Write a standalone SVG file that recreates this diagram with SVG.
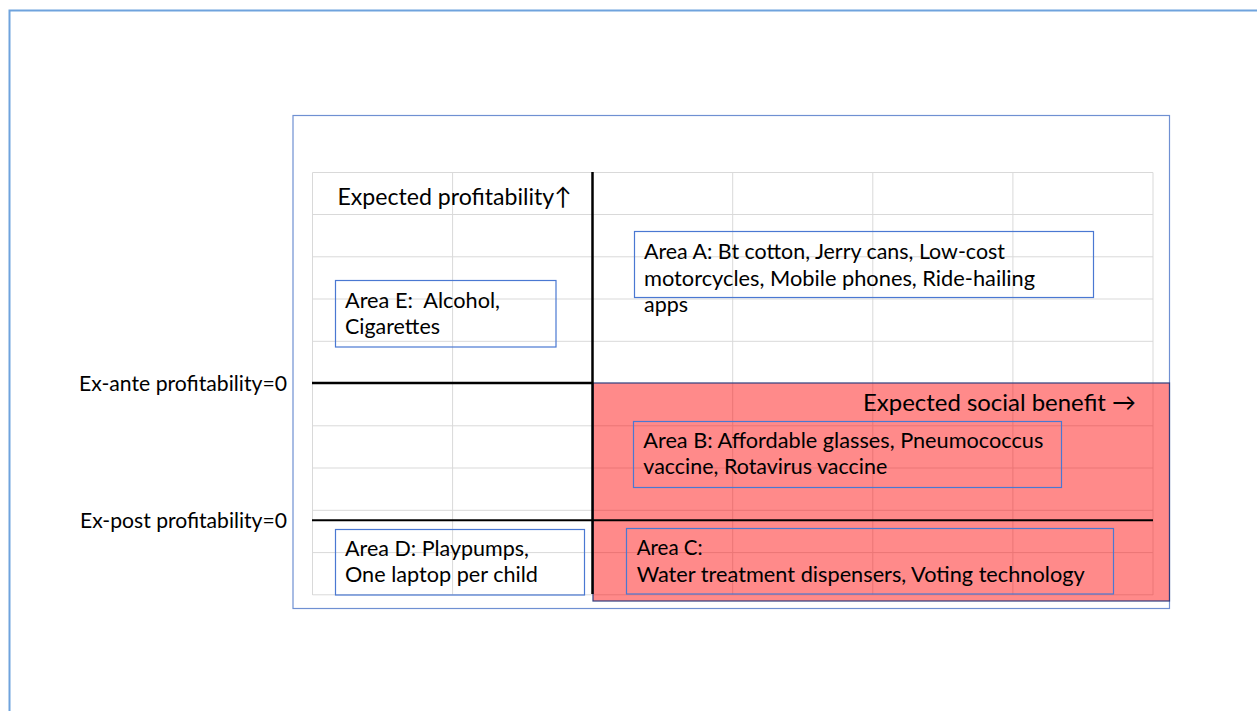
<svg xmlns="http://www.w3.org/2000/svg" width="1257" height="711" viewBox="0 0 1257 711">
<style>
.t{font-family:Lato,"Liberation Sans",sans-serif;font-size:22px;fill:#000}
.h{font-family:Lato,"Liberation Sans",sans-serif;font-size:24px;fill:#000}
.box{fill:none;stroke:#4A78D2;stroke-width:1.2}
.g{stroke:#D9D9D9;stroke-width:1;fill:none}
.ax{stroke:#000;fill:none}
</style>
<rect width="1257" height="711" fill="#FFFFFF"/>
<path d="M9.5 711 V10.5 H1257" fill="none" stroke="#6FA3DD" stroke-width="2"/>
<rect x="293" y="115.5" width="876.5" height="493" fill="none" stroke="#6F90D2" stroke-width="1.2"/>
<g id="grid" class="g">
<path d="M312.5 172.5 H1153 M312.5 214.5 H1153 M312.5 256.8 H1153 M312.5 299 H1153 M312.5 341.3 H1153 M312.5 425.8 H1153 M312.5 468 H1153 M312.5 510.3 H1153 M312.5 552.6 H1153 M312.5 594.8 H1153"/>
<path d="M312.5 172.5 V595 M452.6 172.5 V595 M732.7 172.5 V595 M872.8 172.5 V595 M1012.9 172.5 V595 M1153 172.5 V595"/>
</g>
<rect id="shaded" x="593" y="383" width="576.5" height="218" fill="#FF0000" fill-opacity="0.46" stroke="#2F3F7F" stroke-width="1.2"/>
<g id="connectors">
<line class="ax" x1="592.5" y1="172" x2="592.5" y2="594" stroke-width="2.5"/>
<line class="ax" x1="312" y1="383" x2="593" y2="383" stroke-width="2.5"/>
<line class="ax" x1="312" y1="520.3" x2="1153" y2="520.3" stroke-width="2"/>
</g>
<g id="axis-labels">
<text class="h" x="337.5" y="205" textLength="234" lengthAdjust="spacingAndGlyphs">Expected profitability↑</text>
<text class="h" x="863" y="411" textLength="273" lengthAdjust="spacingAndGlyphs">Expected social benefit →</text>
<text class="t" x="79" y="391" textLength="208" lengthAdjust="spacingAndGlyphs">Ex-ante profitability=0</text>
<text class="t" x="80" y="528" textLength="207" lengthAdjust="spacingAndGlyphs">Ex-post profitability=0</text>
</g>
<g id="areaA">
<rect class="box" x="634.5" y="231.5" width="459" height="66"/>
<text class="t" x="644" y="259" textLength="361" lengthAdjust="spacingAndGlyphs">Area A: Bt cotton, Jerry cans, Low-cost</text>
<text class="t" x="644" y="285.7" textLength="391" lengthAdjust="spacingAndGlyphs">motorcycles, Mobile phones, Ride-hailing</text>
<text class="t" x="644" y="312.4" textLength="44" lengthAdjust="spacingAndGlyphs">apps</text>
</g>
<g id="areaE">
<rect class="box" x="335.5" y="280.5" width="220.5" height="66.5"/>
<text class="t" x="345" y="307.7" textLength="155" lengthAdjust="spacingAndGlyphs" xml:space="preserve">Area E:  Alcohol,</text>
<text class="t" x="345" y="334.3" textLength="95" lengthAdjust="spacingAndGlyphs">Cigarettes</text>
</g>
<g id="areaB">
<rect class="box" x="633.5" y="421.5" width="428" height="66"/>
<text class="t" x="643.3" y="447.7" textLength="400" lengthAdjust="spacingAndGlyphs">Area B: Affordable glasses, Pneumococcus</text>
<text class="t" x="643.3" y="474.3" textLength="244" lengthAdjust="spacingAndGlyphs">vaccine, Rotavirus vaccine</text>
</g>
<g id="areaC">
<rect class="box" x="626.5" y="528.5" width="487" height="65.5"/>
<text class="t" x="636.7" y="555" textLength="66" lengthAdjust="spacingAndGlyphs">Area C:</text>
<text class="t" x="636.7" y="581.7" textLength="448" lengthAdjust="spacingAndGlyphs">Water treatment dispensers, Voting technology</text>
</g>
<g id="areaD">
<rect class="box" x="335.5" y="529.5" width="249" height="65.5"/>
<text class="t" x="345" y="555.7" textLength="184" lengthAdjust="spacingAndGlyphs">Area D: Playpumps,</text>
<text class="t" x="345" y="582.3" textLength="193" lengthAdjust="spacingAndGlyphs">One laptop per child</text>
</g>
</svg>
